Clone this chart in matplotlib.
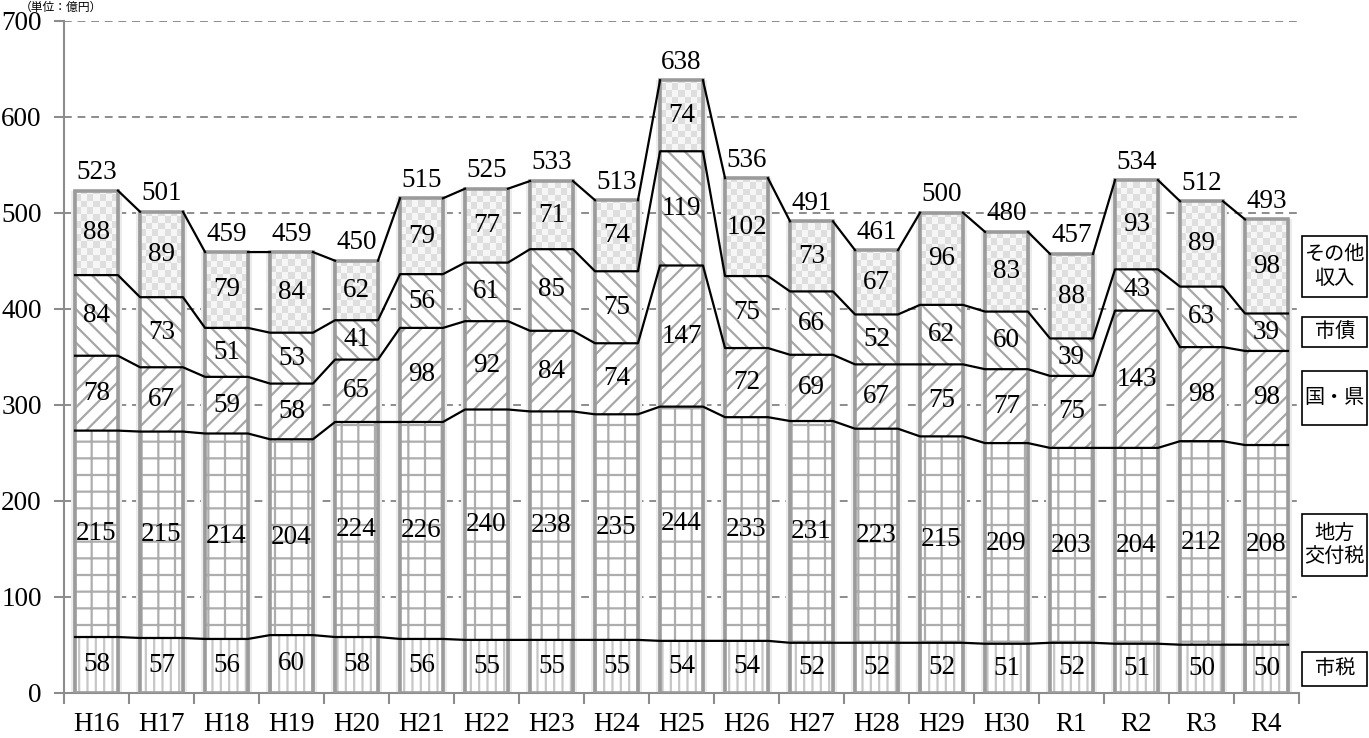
import matplotlib
matplotlib.use("Agg")
import matplotlib.pyplot as plt
import matplotlib.transforms as mtransforms
from matplotlib.colors import ListedColormap
from matplotlib.patches import Rectangle
from matplotlib.ticker import FixedLocator
import numpy as np

# 歳入の推移（億円）
years = ['H16', 'H17', 'H18', 'H19', 'H20', 'H21', 'H22', 'H23', 'H24', 'H25',
         'H26', 'H27', 'H28', 'H29', 'H30', 'R1', 'R2', 'R3', 'R4']
shizei = [58, 57, 56, 60, 58, 56, 55, 55, 55, 54, 54, 52, 52, 52, 51, 52, 51, 50, 50]
kofuzei = [215, 215, 214, 204, 224, 226, 240, 238, 235, 244, 233, 231, 223, 215,
           209, 203, 204, 212, 208]
kuniken = [78, 67, 59, 58, 65, 98, 92, 84, 74, 147, 72, 69, 67, 75, 77, 75, 143, 98, 98]
shisai = [84, 73, 51, 53, 41, 56, 61, 85, 75, 119, 75, 66, 52, 62, 60, 39, 43, 63, 39]
sonota = [88, 89, 79, 84, 62, 79, 77, 71, 74, 74, 102, 73, 67, 96, 83, 88, 93, 89, 98]

series_names = ['市税', '地方\n交付税', '国・県', '市債', 'その他\n収入']

num_font = 'Liberation Serif'
jp_font = ['Noto Sans CJK JP', 'DejaVu Sans']
num_size = 19.5
plt.rcParams['hatch.linewidth'] = 1.6

fig = plt.figure(figsize=(13.69, 7.38), dpi=100)
ax = fig.add_axes([64 / 1369, 45.3 / 738, 1235 / 1369, 672 / 738])

x = np.arange(len(years))
w = 0.66
data = np.array([shizei, kofuzei, kuniken, shisai, sonota], dtype=float)
bottoms = np.vstack([np.zeros(len(years)), np.cumsum(data, axis=0)[:-1]])
totals = data.sum(axis=0)

# soft shadow round each bar
ax.bar(x, totals, width=w + 0.13, color='#ececec', linewidth=0, zorder=1)
ax.bar(x, totals, width=w + 0.07, color='#d6d6d6', linewidth=0, zorder=1.1)

# hatched segments
styles = [('||', '#c6c6c6'), ('+', '#adadad'), ('//', '#a6a6a6'), ('\\\\', '#a6a6a6')]
for k, (hatch, hc) in enumerate(styles):
    ax.bar(x, data[k], bottom=bottoms[k], width=w, color='white',
           edgecolor=hc, hatch=hatch, linewidth=0, zorder=2)

# checker pattern for the top segment
checker_cmap = ListedColormap(['#f6f6f6', '#dedede'])
cx = w / 7
cy = 7.0
for i in x:
    y0 = bottoms[4][i]
    ny = int(np.ceil(data[4][i] / cy))
    chk = np.add.outer(np.arange(ny), np.arange(7)) % 2
    rect = Rectangle((i - w / 2, y0), w, data[4][i], transform=ax.transData)
    im = ax.imshow(chk, extent=(i - w / 2, i + w / 2, y0, y0 + ny * cy),
                   origin='lower', cmap=checker_cmap, vmin=0, vmax=1,
                   interpolation='nearest', aspect='auto', zorder=2)
    im.set_clip_path(rect)

# bar outlines
ax.bar(x, totals, width=w, fill=False, edgecolor='#9b9b9b', linewidth=2.6, zorder=4)

# segment boundaries and series lines
for k in range(1, 5):
    lvl = bottoms[k]
    xs, ys = [], []
    for i in x:
        xs += [i - w / 2, i + w / 2]
        ys += [lvl[i], lvl[i]]
    ax.plot(xs, ys, color='black', linewidth=1.6, zorder=5)
xs, ys = [], []
for i in x[:-1]:
    xs += [i + w / 2, i + 1 - w / 2, np.nan]
    ys += [totals[i], totals[i + 1], np.nan]
ax.plot(xs, ys, color='black', linewidth=1.6, zorder=5)

# value labels
for k in range(5):
    for i in x:
        ax.text(i, bottoms[k][i] + data[k][i] / 2, f'{int(data[k][i])}',
                ha='center', va='center', fontsize=num_size, family=num_font,
                zorder=6)
for i in x:
    ax.annotate(f'{int(totals[i])}', (i, totals[i]), xytext=(0, 4),
                textcoords='offset points', ha='center', va='bottom',
                fontsize=num_size, family=num_font)

ax.set_xlim(-0.5, len(years) - 0.5)
ax.set_ylim(0, 700)
ax.set_yticks(np.arange(0, 701, 100))
ax.set_xticks(x)
ax.set_xticklabels(years)
ax.xaxis.set_minor_locator(FixedLocator(np.arange(-0.5, len(years), 1)))
ax.tick_params(axis='x', which='major', length=0, pad=14)
ax.tick_params(axis='x', which='minor', length=8, width=1.5, color='#8c8c8c')
ax.tick_params(axis='y', length=7, width=1.5, color='#8c8c8c', pad=9)
for lab in ax.get_xticklabels() + ax.get_yticklabels():
    lab.set_fontfamily(num_font)
    lab.set_fontsize(num_size)

for s in ['top', 'right']:
    ax.spines[s].set_visible(False)
for s in ['left', 'bottom']:
    ax.spines[s].set_color('#8c8c8c')
    ax.spines[s].set_linewidth(1.5)
ax.set_axisbelow(True)
ax.yaxis.grid(True, linestyle=(0, (4, 3)), color='#8c8c8c', linewidth=1.4, zorder=0)

# boxed series names beside the last bar
trans = mtransforms.blended_transform_factory(ax.transAxes, ax.transData)
box_h = [35, 64, 57, 31, 63]
for k, name in enumerate(series_names):
    yc = bottoms[k][-1] + data[k][-1] / 2
    ax.add_patch(Rectangle((1.0024, yc - box_h[k] / 2), 0.053, box_h[k],
                           transform=trans, fill=False, edgecolor='black',
                           linewidth=1.2, clip_on=False))
    ax.text(1.0289, yc, name, transform=trans, ha='center', va='center',
            fontsize=14.5, family=jp_font, linespacing=1.15)

fig.text(20 / 1369, 1 - 1 / 738, '（単位：億円）', ha='left', va='top',
         fontsize=8.5, family=jp_font)

fig.savefig('out.png', dpi=100)
